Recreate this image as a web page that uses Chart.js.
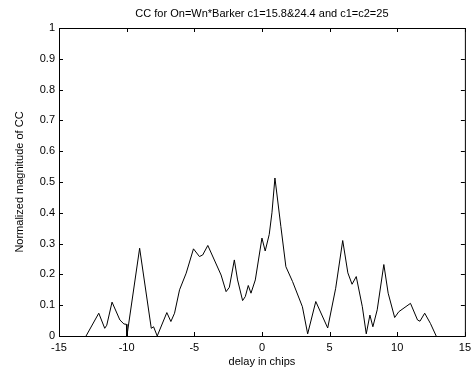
<!DOCTYPE html>
<html>
<head>
<meta charset="utf-8">
<script src="https://cdn.jsdelivr.net/npm/chart.js"></script>
<style>
  html, body { margin: 0; padding: 0; background: #fff; }
  #wrap { width: 476px; height: 371px; }
</style>
</head>
<body>
<div id="wrap"><canvas id="ccChart"></canvas></div>
<script>
// cross-correlation magnitude vs delay (chips)
const delays = [
  -13, -12.06, -11.62, -11.47, -11.08, -10.5, -10.2, -10.02, -9.98, -9.04,
  -8.18, -8.01, -7.74, -7.03, -6.73, -6.46, -6.09, -5.6, -5.06, -4.62,
  -4.38, -4.0, -3.02, -2.65, -2.41, -2.04, -1.8, -1.43, -1.23, -1.01,
  -0.81, -0.49, 0.0, 0.24, 0.54, 0.74, 0.96, 1.4, 1.77, 2.26,
  2.99, 3.38, 3.98, 4.86, 5.45, 5.97, 6.35, 6.66, 6.97, 7.42,
  7.71, 7.98, 8.2, 8.52, 9.01, 9.33, 9.81, 10.12, 10.98, 11.5,
  11.68, 12.03, 12.45, 12.88
];
const magnitude = [
  0, 0.074, 0.025, 0.035, 0.11, 0.052, 0.039, 0.038, 0, 0.285,
  0.025, 0.03, 0, 0.076, 0.047, 0.074, 0.15, 0.204, 0.283, 0.258,
  0.263, 0.294, 0.198, 0.144, 0.158, 0.247, 0.182, 0.115, 0.128, 0.164,
  0.139, 0.182, 0.318, 0.276, 0.33, 0.4, 0.513, 0.355, 0.225, 0.177,
  0.095, 0.007, 0.112, 0.026, 0.155, 0.31, 0.205, 0.168, 0.193, 0.095,
  0.007, 0.068, 0.03, 0.085, 0.232, 0.139, 0.06, 0.079, 0.106, 0.052,
  0.048, 0.074, 0.041, 0
];
const xTicks = [-15, -10, -5, 0, 5, 10, 15];
const yTicks = [0, 0.1, 0.2, 0.3, 0.4, 0.5, 0.6, 0.7, 0.8, 0.9, 1];

const titleText = 'CC for On=Wn*Barker c1=15.8&24.4 and c1=c2=25';
const xLabel = 'delay in chips';
const yLabel = 'Normalized magnitude of CC';

const FONT = 'Arial, "Liberation Sans", sans-serif';

// box, inward ticks and titles, matlab style
const axesBox = {
  id: 'axesBox',
  afterDraw(chart) {
    const { ctx, chartArea: a, scales } = chart;
    ctx.save();
    ctx.strokeStyle = '#000';
    ctx.lineWidth = 1;
    ctx.strokeRect(a.left + 0.5, a.top + 0.5, a.right - a.left, a.bottom - a.top);
    ctx.beginPath();
    const tl = 4;
    xTicks.forEach(v => {
      const px = Math.round(scales.x.getPixelForValue(v)) + 0.5;
      ctx.moveTo(px, a.bottom); ctx.lineTo(px, a.bottom - tl);
      ctx.moveTo(px, a.top); ctx.lineTo(px, a.top + tl);
    });
    yTicks.forEach(v => {
      const py = Math.round(scales.y.getPixelForValue(v)) + 0.5;
      ctx.moveTo(a.left, py); ctx.lineTo(a.left + tl, py);
      ctx.moveTo(a.right, py); ctx.lineTo(a.right - tl, py);
    });
    ctx.stroke();

    ctx.fillStyle = '#000';
    ctx.font = '11px ' + FONT;
    ctx.textAlign = 'center';
    ctx.textBaseline = 'middle';
    const cx = (a.left + a.right) / 2;
    ctx.fillText(titleText, cx, 14);
    ctx.fillText(xLabel, cx, 362);
    ctx.translate(20, (a.top + a.bottom) / 2);
    ctx.rotate(-Math.PI / 2);
    ctx.fillText(yLabel, 0, 0);
    ctx.restore();
  }
};

new Chart(document.getElementById('ccChart'), {
  type: 'scatter',
  data: {
    datasets: [{
      data: delays.map((d, i) => ({ x: d, y: magnitude[i] })),
      showLine: true,
      borderColor: '#000',
      borderWidth: 1,
      pointRadius: 0,
      tension: 0
    }]
  },
  options: {
    responsive: true,
    maintainAspectRatio: false,
    animation: false,
    layout: { padding: { top: 28, right: 10, left: 0, bottom: 0 } },
    plugins: { legend: { display: false }, tooltip: { enabled: false }, title: { display: false } },
    scales: {
      x: {
        type: 'linear',
        min: -15, max: 15,
        afterBuildTicks: s => { s.ticks = xTicks.map(v => ({ value: v })); },
        afterFit: s => { s.height = 35; },
        grid: { display: false, drawTicks: false },
        border: { display: false },
        ticks: {
          color: '#000', font: { size: 11, family: FONT }, padding: 5, maxRotation: 0,
          callback: v => String(v)
        }
      },
      y: {
        min: 0, max: 1,
        afterBuildTicks: s => { s.ticks = yTicks.map(v => ({ value: v })); },
        afterFit: s => { s.width = 59; },
        grid: { display: false, drawTicks: false },
        border: { display: false },
        ticks: {
          color: '#000', font: { size: 11, family: FONT }, padding: 4,
          callback: v => String(Math.round(v * 10) / 10)
        }
      }
    }
  },
  plugins: [axesBox]
});
</script>
</body>
</html>
